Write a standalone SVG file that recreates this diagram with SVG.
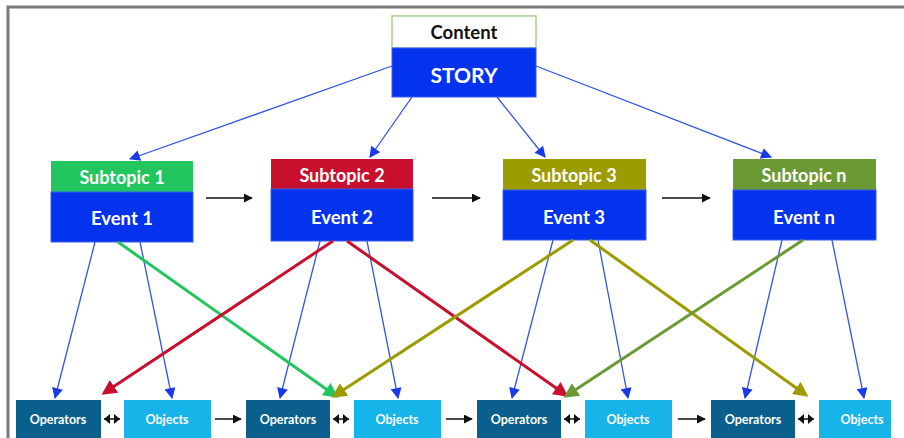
<svg xmlns="http://www.w3.org/2000/svg" width="904" height="438" viewBox="0 0 904 438">
<defs>
<marker id="ab" viewBox="0 0 10 10" refX="9" refY="5" markerWidth="12" markerHeight="11" markerUnits="userSpaceOnUse" orient="auto"><path d="M0,0 L10,5 L0,10 z" fill="#1a3ae8"/></marker>
<marker id="ak" viewBox="0 0 10 10" refX="9" refY="5" markerWidth="9" markerHeight="9" markerUnits="userSpaceOnUse" orient="auto"><path d="M0,0 L10,5 L0,10 z" fill="#111"/></marker>
<marker id="ak2" viewBox="0 0 6 10" refX="6" refY="5" markerWidth="6" markerHeight="10" markerUnits="userSpaceOnUse" orient="auto-start-reverse"><path d="M0,0 L6,5 L0,10 z" fill="#111"/></marker>
<marker id="ag" viewBox="0 0 10 10" refX="8" refY="5" markerWidth="5" markerHeight="5" orient="auto"><path d="M0,0 L10,5 L0,10 z" fill="#22c55e"/></marker>
<marker id="ar" viewBox="0 0 10 10" refX="8" refY="5" markerWidth="5" markerHeight="5" orient="auto"><path d="M0,0 L10,5 L0,10 z" fill="#c8102e"/></marker>
<marker id="ao" viewBox="0 0 10 10" refX="8" refY="5" markerWidth="5" markerHeight="5" orient="auto"><path d="M0,0 L10,5 L0,10 z" fill="#9c9c00"/></marker>
<marker id="an" viewBox="0 0 10 10" refX="8" refY="5" markerWidth="5" markerHeight="5" orient="auto"><path d="M0,0 L10,5 L0,10 z" fill="#6b9a34"/></marker>
</defs>
<style>
.t{font-family:Lato,"Liberation Sans",sans-serif;font-weight:bold;text-anchor:middle;dominant-baseline:central}
.w{fill:#fff}
.s{font-size:18px}
.e{font-size:18.5px}
.o{font-size:12.5px}
.ev{fill:#0433ee;stroke:#3a5cf0;stroke-width:1}
.op{fill:#0b5f8c}
.ob{fill:#17b4ea}
.bl{stroke:#3355e0;stroke-width:1.3;fill:none;marker-end:url(#ab)}
.bk{stroke:#111;stroke-width:1.5;fill:none;marker-end:url(#ak)}
.dbl{stroke:#111;stroke-width:1.5;fill:none;marker-start:url(#ak2);marker-end:url(#ak2)}
.c{stroke-width:3;fill:none}
</style>
<rect x="0" y="0" width="904" height="438" fill="#fff"/>
<rect x="8" y="7" width="1000" height="1000" fill="none" stroke="#7a7a7a" stroke-width="3"/>

<g id="story">
<rect x="392" y="16" width="144" height="32" fill="#fff" stroke="#a9d08e" stroke-width="1.5"/>
<text class="t" x="464" y="32" font-size="18.5" fill="#111">Content</text>
<rect class="ev" x="392" y="48" width="144" height="49"/>
<text class="t w" x="464" y="74" font-size="21">STORY</text>
</g>

<g id="sub1">
<rect x="51" y="161" width="142" height="31" fill="#22c55e"/>
<text class="t w s" x="122" y="177">Subtopic 1</text>
<rect class="ev" x="51" y="192" width="142" height="50"/>
<text class="t w e" x="122" y="218">Event 1</text>
</g>
<g id="sub2">
<rect x="271" y="159" width="142" height="30" fill="#c8102e"/>
<text class="t w s" x="342" y="175">Subtopic 2</text>
<rect class="ev" x="271" y="189" width="142" height="52"/>
<text class="t w e" x="342" y="217">Event 2</text>
</g>
<g id="sub3">
<rect x="503" y="159" width="143" height="31" fill="#9c9c00"/>
<text class="t w s" x="574" y="175">Subtopic 3</text>
<rect class="ev" x="503" y="190" width="143" height="50"/>
<text class="t w e" x="574" y="217">Event 3</text>
</g>
<g id="subn">
<rect x="733" y="159" width="143" height="31" fill="#6b9a34"/>
<text class="t w s" x="804" y="175">Subtopic n</text>
<rect class="ev" x="733" y="190" width="143" height="50"/>
<text class="t w e" x="804" y="217">Event n</text>
</g>

<g id="op1"><rect class="op" x="16" y="400" width="85" height="40"/><text class="t w o" x="58" y="419">Operators</text></g>
<g id="ob1"><rect class="ob" x="124" y="400" width="87" height="40"/><text class="t w o" x="167" y="419">Objects</text></g>
<g id="op2"><rect class="op" x="246" y="400" width="84" height="40"/><text class="t w o" x="288" y="419">Operators</text></g>
<g id="ob2"><rect class="ob" x="354" y="400" width="87" height="40"/><text class="t w o" x="397" y="419">Objects</text></g>
<g id="op3"><rect class="op" x="477" y="400" width="84" height="40"/><text class="t w o" x="519" y="419">Operators</text></g>
<g id="ob3"><rect class="ob" x="585" y="400" width="87" height="40"/><text class="t w o" x="628" y="419">Objects</text></g>
<g id="op4"><rect class="op" x="711" y="400" width="84" height="40"/><text class="t w o" x="753" y="419">Operators</text></g>
<g id="ob4"><rect class="ob" x="819" y="400" width="72" height="40"/><text class="t w o" x="862" y="419">Objects</text></g>

<g id="connectors">
<line class="bl" x1="392" y1="66" x2="130" y2="159"/>
<line class="bl" x1="412" y1="97" x2="370" y2="157"/>
<line class="bl" x1="497" y1="97" x2="545" y2="157"/>
<line class="bl" x1="536" y1="66" x2="771" y2="157"/>

<line class="bk" x1="206" y1="198" x2="252" y2="198"/>
<line class="bk" x1="432" y1="198" x2="480" y2="198"/>
<line class="bk" x1="662" y1="198" x2="710" y2="198"/>

<line class="bl" x1="95" y1="242" x2="55" y2="398"/>
<line class="bl" x1="140" y1="242" x2="172" y2="398"/>
<line class="bl" x1="320" y1="241" x2="280" y2="398"/>
<line class="bl" x1="367" y1="241" x2="398" y2="398"/>
<line class="bl" x1="553" y1="240" x2="512" y2="398"/>
<line class="bl" x1="598" y1="240" x2="628" y2="398"/>
<line class="bl" x1="782" y1="240" x2="745" y2="398"/>
<line class="bl" x1="832" y1="240" x2="864" y2="398"/>

<line class="c" stroke="#22c55e" x1="118" y1="242" x2="336" y2="396" marker-end="url(#ag)"/>
<line class="c" stroke="#c8102e" x1="333" y1="241" x2="104" y2="393" marker-end="url(#ar)"/>
<line class="c" stroke="#c8102e" x1="347" y1="241" x2="566" y2="395" marker-end="url(#ar)"/>
<line class="c" stroke="#9c9c00" x1="573" y1="240" x2="334" y2="396" marker-end="url(#ao)"/>
<line class="c" stroke="#9c9c00" x1="590" y1="240" x2="806" y2="395" marker-end="url(#ao)"/>
<line class="c" stroke="#6b9a34" x1="803" y1="240" x2="566" y2="396" marker-end="url(#an)"/>

<line class="dbl" x1="104" y1="419" x2="120" y2="419"/>
<line class="dbl" x1="333" y1="419" x2="349" y2="419"/>
<line class="dbl" x1="564" y1="419" x2="580" y2="419"/>
<line class="dbl" x1="798" y1="419" x2="814" y2="419"/>
<line class="bk" x1="215" y1="419" x2="241" y2="419"/>
<line class="bk" x1="446" y1="419" x2="472" y2="419"/>
<line class="bk" x1="678" y1="419" x2="705" y2="419"/>
</g>
</svg>
